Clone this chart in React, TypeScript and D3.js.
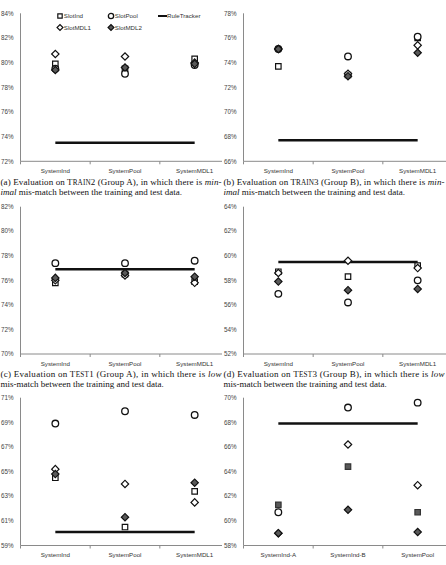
import React from "react";
import * as d3 from "d3";

// categories
const systemsABCDE = ["SystemInd", "SystemPool", "SystemMDL1"];
const systemsF = ["SystemInd-A", "SystemInd-B", "SystemPool"];

// (a) TRAIN2
const aSlotInd = [79.9, 79.5, 80.3];
const aSlotPool = [79.5, 79.1, 79.8];
const aSlotMDL1 = [80.7, 80.5, 80.0];
const aSlotMDL2 = [79.4, 79.6, 79.9];
const aRule = 73.5;

// (b) TRAIN3
const bSlotInd = [73.7, 73.0, 76.0];
const bSlotPool = [75.1, 74.5, 76.1];
const bSlotMDL1 = [75.1, 73.1, 75.4];
const bSlotMDL2 = [75.1, 72.9, 74.8];
const bRule = 67.7;

// (c) TEST1
const cSlotInd = [75.8, 76.5, 75.9];
const cSlotPool = [77.4, 77.4, 77.6];
const cSlotMDL1 = [76.0, 76.4, 75.8];
const cSlotMDL2 = [76.2, 76.6, 76.3];
const cRule = 76.9;

// (d) TEST3
const dSlotInd = [58.7, 58.3, 59.2];
const dSlotPool = [56.9, 56.2, 58.0];
const dSlotMDL1 = [58.6, 59.6, 59.0];
const dSlotMDL2 = [57.9, 57.2, 57.3];
const dRule = 59.5;

// (e)
const eSlotInd = [64.5, 60.5, 63.4];
const eSlotPool = [68.9, 69.9, 69.6];
const eSlotMDL1 = [65.2, 64.0, 62.5];
const eSlotMDL2 = [64.8, 61.3, 64.1];
const eRule = 60.1;

// (f)
const fSlotInd = [61.3, 64.4, 60.7];
const fSlotPool = [60.7, 69.2, 69.6];
const fSlotMDL1 = [59.0, 66.2, 62.9];
const fSlotMDL2 = [59.0, 60.9, 59.1];
const fRule = 67.9;

const yDomains = [
  [72, 84],
  [66, 78],
  [70, 82],
  [52, 64],
  [59, 71],
  [58, 70],
];

const tickFont = "'Liberation Sans', Arial, sans-serif";
const capFont = "'Liberation Serif', 'Times New Roman', serif";

const symSquare = d3.symbol().type(d3.symbolSquare);

const Marker = ({ kind, x, y, s = 1, filledSquare = false }) => {
  if (kind === "circle") {
    return <circle cx={x} cy={y} r={3.3 * s} fill="white" stroke="#111" strokeWidth={1.3} />;
  }
  if (kind === "square") {
    return (
      <path
        d={symSquare.size(30 * s * s)()}
        transform={`translate(${x},${y})`}
        fill={filledSquare ? "#595959" : "white"}
        stroke={filledSquare ? "#333" : "#111"}
        strokeWidth={1.2}
      />
    );
  }
  const filled = kind === "dfill";
  return (
    <path
      d={symSquare.size(27 * s * s)()}
      transform={`translate(${x},${y}) rotate(45)`}
      fill={filled ? "#595959" : "white"}
      stroke="#111"
      strokeWidth={1.2}
    />
  );
};

const Panel = ({ left, top, bottom, domain, cats, series, rule, axisEnd, filledSquare = false }) => {
  const right = left + 209;
  const x = d3.scaleBand().domain(cats).range([left, right]);
  const y = d3.scaleLinear().domain(domain).range([bottom, top]);
  const ticks = d3.range(domain[0], domain[1] + 0.1, 2);
  const kinds = ["square", "circle", "diamond", "dfill"];
  const cx = (c) => x(c) + x.bandwidth() / 2;
  const bounds = cats.map((c) => x(c)).concat([right]).filter((b) => b <= axisEnd);
  return (
    <g>
      {ticks.map((t) => (
        <text
          key={t}
          x={left - 7}
          y={y(t) + 2.2}
          textAnchor="end"
          fontFamily={tickFont}
          fontSize={6.3}
          fill="#444"
        >
          {t}%
        </text>
      ))}
      <line x1={left} x2={left} y1={top} y2={bottom} stroke="#8a8a8a" strokeWidth={1} />
      <line x1={left} x2={Math.min(right, axisEnd)} y1={bottom} y2={bottom} stroke="#8a8a8a" strokeWidth={1} />
      {bounds.map((b, i) => (
        <line key={i} x1={b} x2={b} y1={bottom} y2={bottom + 3} stroke="#8a8a8a" strokeWidth={1} />
      ))}
      {cats.map((c) => (
        <text
          key={c}
          x={cx(c)}
          y={bottom + 11.5}
          textAnchor="middle"
          fontFamily={tickFont}
          fontSize={6.2}
          fill="#333"
        >
          {c}
        </text>
      ))}
      <line
        x1={cx(cats[0])}
        x2={cx(cats[cats.length - 1])}
        y1={y(rule)}
        y2={y(rule)}
        stroke="#111"
        strokeWidth={2.5}
      />
      {series.map((vals, si) =>
        vals.map((v, i) => (
          <Marker
            key={`${si}-${i}`}
            kind={kinds[si]}
            x={cx(cats[i])}
            y={y(v)}
            filledSquare={filledSquare}
          />
        ))
      )}
    </g>
  );
};

const Legend = () => {
  const items = [
    { kind: "square", label: "SlotInd", x: 60, y: 16 },
    { kind: "circle", label: "SlotPool", x: 111, y: 16 },
    { kind: "diamond", label: "SlotMDL1", x: 60, y: 27.5 },
    { kind: "dfill", label: "SlotMDL2", x: 111, y: 27.5 },
  ];
  return (
    <g>
      {items.map((it) => (
        <g key={it.label}>
          <Marker kind={it.kind} x={it.x} y={it.y} s={0.8} />
          <text x={it.x + 3.8} y={it.y + 2.2} fontFamily={tickFont} fontSize={6.2} fill="#333">
            {it.label}
          </text>
        </g>
      ))}
      <line x1={158} x2={167} y1={16} y2={16} stroke="#111" strokeWidth={2} />
      <text x={167} y={18.2} fontFamily={tickFont} fontSize={6.2} fill="#333">
        RuleTracker
      </text>
    </g>
  );
};

const Caption = ({ x, y, tag, sc1, sc2, num, group, tail, italicWord, line2 }) => (
  <g fontFamily={capFont} fontSize={9} fill="#111">
    <text x={x} y={y} textLength={221} lengthAdjust="spacing">
      {`${tag} Evaluation on `}
      {sc1}
      <tspan fontSize={7.2}>{sc2}</tspan>
      {`${num} (${group}), in which there is `}
      <tspan fontStyle="italic">{italicWord}</tspan>
    </text>
    <text x={x} y={y + 9.8}>
      {tail ? <tspan fontStyle="italic">{tail}</tspan> : null}
      {line2}
    </text>
  </g>
);

export default function App() {
  return (
    <svg
      width={446}
      height={565}
      style={{ position: "absolute", left: 0, top: 0, background: "white" }}
    >
      <rect width={446} height={565} fill="white" />
      <Panel
        left={20.5}
        top={13.3}
        bottom={161.3}
        domain={yDomains[0]}
        cats={systemsABCDE}
        series={[aSlotInd, aSlotPool, aSlotMDL1, aSlotMDL2]}
        rule={aRule}
        axisEnd={222}
      />
      <Legend />
      <Panel
        left={243.5}
        top={13.3}
        bottom={161.3}
        domain={yDomains[1]}
        cats={systemsABCDE}
        series={[bSlotInd, bSlotPool, bSlotMDL1, bSlotMDL2]}
        rule={bRule}
        axisEnd={446}
      />
      <Caption
        x={0.5}
        y={185}
        tag="(a)"
        sc1="T"
        sc2="RAIN"
        num="2"
        group="Group A"
        italicWord="min-"
        tail="imal"
        line2=" mis-match between the training and test data."
      />
      <Caption
        x={223.5}
        y={185}
        tag="(b)"
        sc1="T"
        sc2="RAIN"
        num="3"
        group="Group B"
        italicWord="min-"
        tail="imal"
        line2=" mis-match between the training and test data."
      />
      <Panel
        left={20.5}
        top={206.7}
        bottom={354}
        domain={yDomains[2]}
        cats={systemsABCDE}
        series={[cSlotInd, cSlotPool, cSlotMDL1, cSlotMDL2]}
        rule={cRule}
        axisEnd={222}
      />
      <Panel
        left={243.5}
        top={206.7}
        bottom={354}
        domain={yDomains[3]}
        cats={systemsABCDE}
        series={[dSlotInd, dSlotPool, dSlotMDL1, dSlotMDL2]}
        rule={dRule}
        axisEnd={446}
      />
      <Caption
        x={0.5}
        y={377}
        tag="(c)"
        sc1="T"
        sc2="EST"
        num="1"
        group="Group A"
        italicWord="low"
        tail={null}
        line2="mis-match between the training and test data."
      />
      <Caption
        x={223.5}
        y={377}
        tag="(d)"
        sc1="T"
        sc2="EST"
        num="3"
        group="Group B"
        italicWord="low"
        tail={null}
        line2="mis-match between the training and test data."
      />
      <Panel
        left={20.5}
        top={397.7}
        bottom={545.5}
        domain={yDomains[4]}
        cats={systemsABCDE}
        series={[eSlotInd, eSlotPool, eSlotMDL1, eSlotMDL2]}
        rule={eRule}
        axisEnd={222}
      />
      <Panel
        left={243.5}
        top={397.7}
        bottom={545.5}
        domain={yDomains[5]}
        cats={systemsF}
        series={[fSlotInd, fSlotPool, fSlotMDL1, fSlotMDL2]}
        rule={fRule}
        axisEnd={446}
        filledSquare
      />
    </svg>
  );
}
